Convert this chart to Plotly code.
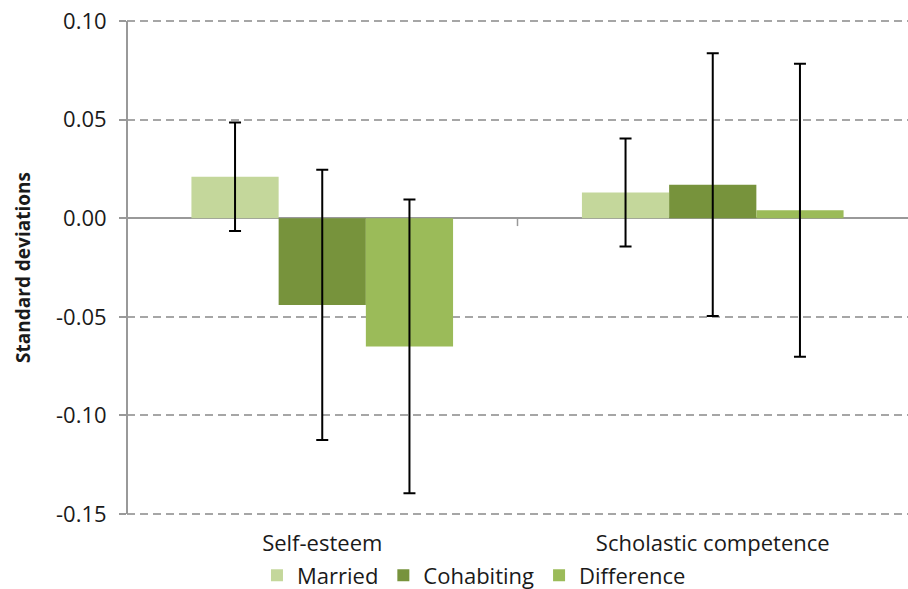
import plotly.graph_objects as go

# Outcome measures and estimated effects (in standard deviations)
categories = ["Self-esteem", "Scholastic competence"]
series_names = ["Married", "Cohabiting", "Difference"]
married = [0.021, 0.013]
cohabiting = [-0.044, 0.017]
difference = [-0.065, 0.004]
# 95% confidence half-widths
married_ci = [0.0275, 0.0274]
cohabiting_ci = [0.0685, 0.0666]
difference_ci = [0.0745, 0.0743]
y_ticks = [0.10, 0.05, 0.00, -0.05, -0.10, -0.15]
y_tick_text = ["0.10", "0.05", "0.00", "-0.05", "-0.10", "-0.15"]

colors = ["#c4d79b", "#77933c", "#9bbb59"]
font_family = "Open Sans, Noto Sans, sans-serif"

fig = go.Figure()
for name, vals, ci, col in zip(series_names,
                               [married, cohabiting, difference],
                               [married_ci, cohabiting_ci, difference_ci],
                               colors):
    fig.add_trace(go.Bar(
        name=name, x=categories, y=vals, marker=dict(color=col, line=dict(width=0)),
        error_y=dict(type="data", array=ci, visible=True, color="black",
                     thickness=2, width=6),
    ))

# small tick on the zero line between the two categories
fig.add_shape(type="line", xref="x", yref="y", x0=0.5, x1=0.5, y0=0, y1=-0.004,
              line=dict(color="#999999", width=1.5))

fig.update_layout(
    width=908, height=589,
    margin=dict(l=127, r=0, t=17, b=71),
    barmode="group", bargap=0.33, bargroupgap=0,
    plot_bgcolor="white", paper_bgcolor="white",
    font=dict(family=font_family, size=22, color="#1a1a1a"),
    showlegend=True,
    legend=dict(orientation="h", xref="container", yref="container",
                x=0.522, xanchor="center", y=0.023, yanchor="middle",
                bgcolor="rgba(0,0,0,0)",
                font=dict(size=22), itemwidth=30, traceorder="normal"),
)
fig.update_xaxes(showgrid=False, showline=False, ticks="", zeroline=False,
                 tickfont=dict(size=22), ticklabelstandoff=10, automargin=False)
# axis range padded a few pixels so the end gridlines are drawn
fig.update_yaxes(
    range=[-0.152, 0.102], tickvals=y_ticks, ticktext=y_tick_text,
    showgrid=True, gridcolor="#a6a6a6", gridwidth=1.5, griddash="8px,5px",
    zeroline=True, zerolinecolor="#999999", zerolinewidth=2,
    showline=False, automargin=False,
    ticks="outside", ticklen=7, tickcolor="#999999", tickwidth=1.5,
    ticklabelstandoff=8,
    title=dict(text="<b>Standard deviations</b>", font=dict(size=19), standoff=20),
    tickfont=dict(size=22),
)
# vertical value-axis line spanning exactly the labelled range
fig.add_shape(type="line", xref="paper", yref="y", x0=0, x1=0,
              y0=y_ticks[-1], y1=y_ticks[0],
              line=dict(color="#999999", width=2))

fig.write_html("out.html")
